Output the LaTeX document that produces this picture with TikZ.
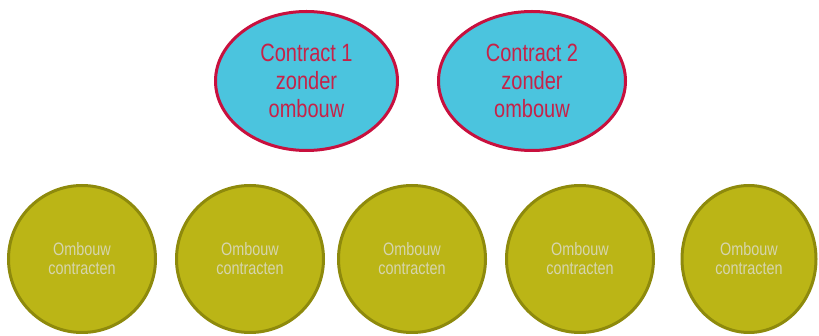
\documentclass[tikz,border=0pt]{standalone}
\usepackage{fontspec}
\usetikzlibrary{shapes.geometric}
\newfontfamily\narrowsans{Liberation Sans}[FakeStretch=0.8]
\definecolor{skyfill}{HTML}{4BC4DE}
\definecolor{crimsonline}{HTML}{C8103E}
\definecolor{crimsontext}{HTML}{C62248}
\definecolor{olivefill}{HTML}{BBB516}
\definecolor{oliveline}{HTML}{8E8A0C}
\definecolor{palelabel}{HTML}{D6D5AE}
\tikzset{
  contract/.style={ellipse, draw=crimsonline, fill=skyfill, line width=3pt,
    inner sep=0pt, align=center, text=crimsontext,
    font=\narrowsans\fontsize{25}{28}\selectfont},
  rebuild/.style={ellipse, draw=oliveline, fill=olivefill, line width=3pt,
    inner sep=0pt, align=center, text=palelabel,
    font=\narrowsans\fontsize{18}{19}\selectfont},
}
\begin{document}
\begin{tikzpicture}[x=1pt,y=-1pt]
\useasboundingbox (0,0) rectangle (819,336);
\node[contract, minimum width=182pt, minimum height=139pt] (c1) at (306.5,81) {Contract 1\\zonder\\ombouw};
\node[contract, minimum width=187pt, minimum height=139pt] (c2) at (532,81) {Contract 2\\zonder\\ombouw};
\node[rebuild, minimum width=147pt, minimum height=147pt] (o1) at (82,259) {Ombouw\\contracten};
\node[rebuild, minimum width=147pt, minimum height=147pt] (o2) at (250,259) {Ombouw\\contracten};
\node[rebuild, minimum width=147pt, minimum height=147pt] (o3) at (412,259) {Ombouw\\contracten};
\node[rebuild, minimum width=147pt, minimum height=147pt] (o4) at (580,259) {Ombouw\\contracten};
\node[rebuild, minimum width=134pt, minimum height=147pt] (o5) at (749,259) {Ombouw\\contracten};
\end{tikzpicture}
\end{document}
